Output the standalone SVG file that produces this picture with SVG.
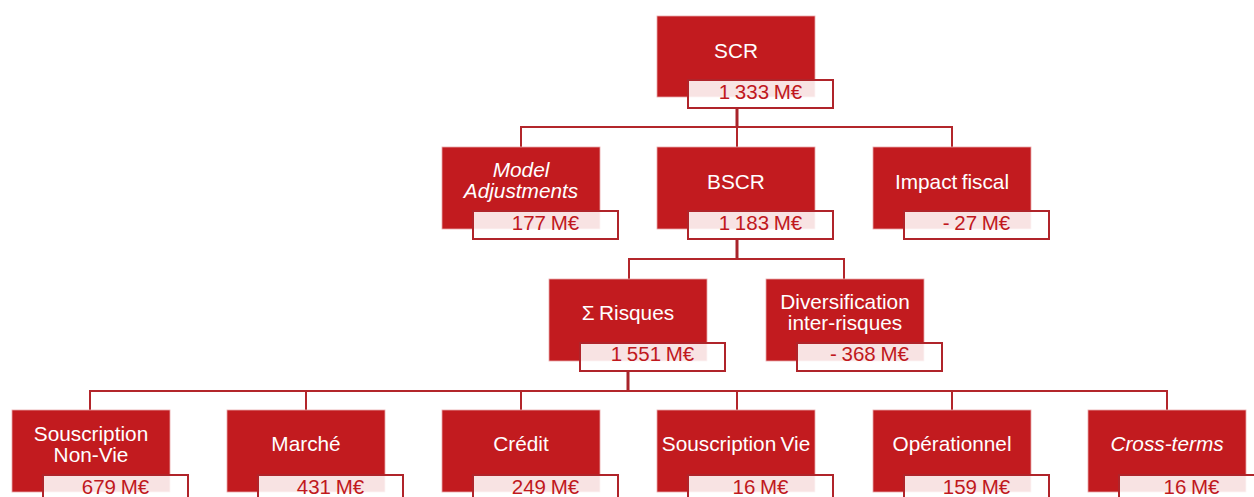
<svg xmlns="http://www.w3.org/2000/svg" width="1254" height="497" viewBox="0 0 1254 497">
<style>
.box{fill:#C21B1F;stroke:#E9A9AB;stroke-width:0.8}
.val{fill:#FFFFFF;fill-opacity:0.88;stroke:#B0242A;stroke-width:2}
.t{font-family:"Liberation Sans",Arial,sans-serif;font-size:20.8px;word-spacing:-1.5px;fill:#FFFFFF;text-anchor:middle}
.it{font-style:italic}
.v{font-family:"Liberation Sans",Arial,sans-serif;font-size:20.5px;word-spacing:-1px;fill:#C0181D;text-anchor:middle}
.c{fill:none;stroke:#B3262B;stroke-width:2}
.cp{fill:none;stroke:#A8242A;stroke-width:3}
</style>
<rect width="1254" height="497" fill="#FFFFFF"/>
<g id="connectors">
<path class="cp" d="M737 108V127"/>
<path class="c" d="M521 147V127H952V147M737 127V147"/>
<path class="cp" d="M737 239V259"/>
<path class="c" d="M629 279V259H844V279"/>
<path class="cp" d="M628 370V391"/>
<path class="c" d="M90 410V391H1167V410M306 391V410M521 391V410M737 391V410M952 391V410"/>
</g>
<g id="scr" transform="translate(657,16)">
<rect class="box" width="158" height="81"/>
<text class="t" x="79" y="42">SCR</text>
<rect class="val" x="31" y="64" width="145" height="28"/>
<text class="v" x="103.5" y="83">1 333 M€</text>
</g>
<g id="model-adjustments" transform="translate(442,147)">
<rect class="box" width="158" height="82"/>
<text class="t it" x="79" y="30">Model</text>
<text class="t it" x="79" y="51">Adjustments</text>
<rect class="val" x="31" y="64" width="145" height="28"/>
<text class="v" x="103.5" y="83">177 M€</text>
</g>
<g id="bscr" transform="translate(657,147)">
<rect class="box" width="158" height="82"/>
<text class="t" x="79" y="42">BSCR</text>
<rect class="val" x="31" y="64" width="145" height="28"/>
<text class="v" x="103.5" y="83">1 183 M€</text>
</g>
<g id="impact-fiscal" transform="translate(873,147)">
<rect class="box" width="158" height="82"/>
<text class="t" x="79" y="42">Impact fiscal</text>
<rect class="val" x="31" y="64" width="145" height="28"/>
<text class="v" x="103.5" y="83">- 27 M€</text>
</g>
<g id="risques" transform="translate(549,279)">
<rect class="box" width="158" height="82"/>
<text class="t" x="79" y="41">Σ Risques</text>
<rect class="val" x="31" y="64" width="145" height="28"/>
<text class="v" x="103.5" y="82">1 551 M€</text>
</g>
<g id="diversification" transform="translate(766,279)">
<rect class="box" width="158" height="82"/>
<text class="t" x="79" y="30">Diversification</text>
<text class="t" x="79" y="51">inter-risques</text>
<rect class="val" x="31" y="64" width="145" height="28"/>
<text class="v" x="103.5" y="82">- 368 M€</text>
</g>
<g id="souscription-non-vie" transform="translate(12,410)">
<rect class="box" width="158" height="82"/>
<text class="t" x="79" y="31">Souscription</text>
<text class="t" x="79" y="52">Non-Vie</text>
<rect class="val" x="31" y="65" width="145" height="28"/>
<text class="v" x="103.5" y="84">679 M€</text>
</g>
<g id="marche" transform="translate(227,410)">
<rect class="box" width="158" height="82"/>
<text class="t" x="79" y="41">Marché</text>
<rect class="val" x="31" y="65" width="145" height="28"/>
<text class="v" x="103.5" y="84">431 M€</text>
</g>
<g id="credit" transform="translate(442,410)">
<rect class="box" width="158" height="82"/>
<text class="t" x="79" y="41">Crédit</text>
<rect class="val" x="31" y="65" width="145" height="28"/>
<text class="v" x="103.5" y="84">249 M€</text>
</g>
<g id="souscription-vie" transform="translate(657,410)">
<rect class="box" width="158" height="82"/>
<text class="t" x="79" y="41">Souscription Vie</text>
<rect class="val" x="31" y="65" width="145" height="28"/>
<text class="v" x="103.5" y="84">16 M€</text>
</g>
<g id="operationnel" transform="translate(873,410)">
<rect class="box" width="158" height="82"/>
<text class="t" x="79" y="41">Opérationnel</text>
<rect class="val" x="31" y="65" width="145" height="28"/>
<text class="v" x="103.5" y="84">159 M€</text>
</g>
<g id="cross-terms" transform="translate(1088,410)">
<rect class="box" width="158" height="82"/>
<text class="t it" x="79" y="41">Cross-terms</text>
<rect class="val" x="31" y="65" width="145" height="28"/>
<text class="v" x="103.5" y="84">16 M€</text>
</g>
</svg>
